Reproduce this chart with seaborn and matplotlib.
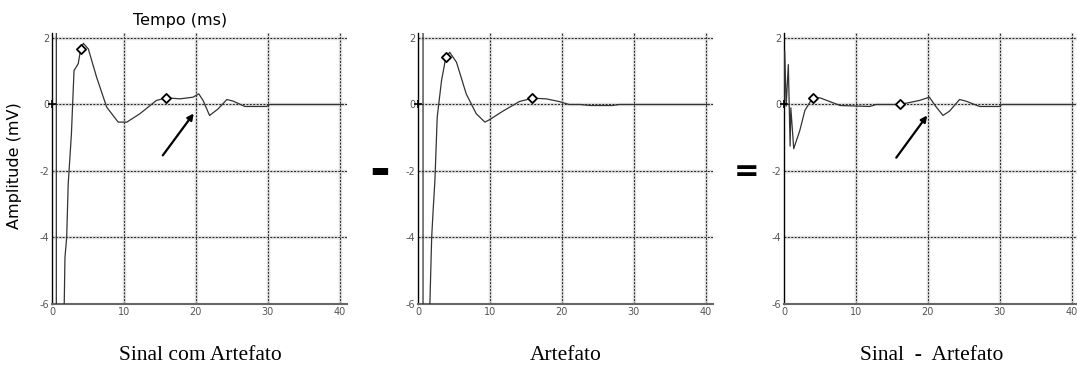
import matplotlib
matplotlib.use("Agg")
import matplotlib.pyplot as plt
import seaborn as sns
import numpy as np

# ---------------- data ----------------
panel_titles = ["Sinal com Artefato", "Artefato", "Sinal  -  Artefato"]
operators = ["-", "="]

t1 = [0.6, 0.6, 1.6, 1.7, 1.8, 2.04, 2.25, 2.7, 3.06, 3.65, 4.0, 4.35, 5.05, 6.2,
      7.6, 9.2, 10.4, 12.2, 14.5, 15.9, 17.8, 19.6, 20.4, 21.0, 21.9, 23.1, 24.3,
      25.2, 26.8, 29.8, 30.3, 40.5]
y1 = [3.0, -9.0, -9.0, -6.0, -4.6, -4.0, -2.4, -0.88, 1.02, 1.23, 1.68, 1.84, 1.67,
      0.82, -0.08, -0.53, -0.53, -0.28, 0.12, 0.2, 0.17, 0.22, 0.32, 0.12, -0.33,
      -0.13, 0.15, 0.1, -0.06, -0.06, 0.0, 0.0]

t2 = [0.7, 0.7, 1.5, 1.65, 1.9, 2.1, 2.35, 2.67, 3.27, 3.87, 4.4, 5.35, 6.7, 8.1,
      9.3, 10.0, 11.8, 14.1, 15.9, 17.8, 19.6, 21.0, 22.5, 24.0, 27.0, 28.0, 40.5]
y2 = [3.0, -9.0, -9.0, -6.0, -4.0, -3.2, -2.29, -0.38, 0.72, 1.42, 1.57, 1.27, 0.32,
      -0.28, -0.53, -0.45, -0.2, 0.09, 0.19, 0.17, 0.09, 0.0, 0.0, -0.03, -0.03,
      0.0, 0.0]

t3 = [0.0, 0.1, 0.3, 0.6, 0.85, 0.95, 1.35, 2.2, 2.9, 3.97, 5.0, 7.8, 11.9, 12.8,
      16.1, 18.8, 20.2, 21.1, 22.1, 23.0, 24.4, 25.3, 27.2, 29.9, 30.3, 40.5]
y3 = [0.0, 1.6, -0.05, 1.2, -1.25, -0.1, -1.33, -0.78, -0.18, 0.2, 0.2, -0.03,
      -0.06, 0.0, 0.0, 0.12, 0.22, -0.06, -0.33, -0.2, 0.15, 0.1, -0.06, -0.06,
      0.0, 0.0]

marker_t = [[4.0, 15.9], [3.87, 15.9], [3.97, 16.1]]
marker_y = [[1.68, 0.2], [1.42, 0.19], [0.2, 0.0]]

arrow_from = [(15.4, -1.53), None, (15.6, -1.6)]
arrow_to = [(19.7, -0.27), None, (19.9, -0.33)]

x_ticks = [0, 10, 20, 30, 40]
y_ticks = [2, 0, -2, -4, -6]

# ---------------- figure ----------------
sns.set_style("white")
plt.rcParams['font.family'] = ['DejaVu Sans']
plt.rcParams['axes.unicode_minus'] = False
plt.rcParams['text.color'] = 'black'

W, H = 1077, 367
fig = plt.figure(figsize=(W / 100, H / 100), dpi=100)

lefts_px = [52, 418, 784]
ax_w_px = 295
bottom_px = 304
ax_h_px = 271

series = [(t1, y1), (t2, y2), (t3, y3)]

for i, (t, y) in enumerate(series):
    ax = fig.add_axes([lefts_px[i] / W, (H - bottom_px) / H, ax_w_px / W, ax_h_px / H])
    ax.set_xlim(0, 41)
    ax.set_ylim(-6, 2.15)

    # grid: light halo + dark dotted line
    for xv in x_ticks[1:]:
        ax.axvline(xv, color='#dddddd', lw=2.5, zorder=0)
        ax.axvline(xv, color='#222222', lw=0.7, ls=(0, (2, 1.5)), zorder=1)
    for yv in y_ticks[:-1]:
        ax.axhline(yv, color='#dddddd', lw=2.5, zorder=0)
        ax.axhline(yv, color='#222222', lw=0.7, ls=(0, (2, 1.5)), zorder=1)

    sns.lineplot(x=t, y=y, ax=ax, sort=False, estimator=None, color='#333333',
                 lw=0.9, zorder=3)
    sns.scatterplot(x=marker_t[i], y=marker_y[i], ax=ax, marker='D', s=22,
                    facecolor='white', edgecolor='black', linewidth=1.3, zorder=5)
    ax.plot([0], [0], marker='+', color='black', ms=6, mew=1.2, zorder=5,
            clip_on=False)

    if arrow_from[i] is not None:
        ax.annotate("", xy=arrow_to[i], xytext=arrow_from[i],
                    arrowprops=dict(arrowstyle='-|>', color='black', lw=1.6,
                                    mutation_scale=9, shrinkA=0, shrinkB=0),
                    zorder=6)

    ax.set_xticks(x_ticks)
    ax.set_yticks(y_ticks)
    ax.tick_params(axis='both', length=0, labelsize=7, labelcolor='#555555', pad=2)
    ax.set_xlabel("")
    ax.set_ylabel("")
    for s in ['top', 'right']:
        ax.spines[s].set_visible(False)
    ax.spines['left'].set_color('black')
    ax.spines['left'].set_linewidth(1.0)
    ax.spines['bottom'].set_color('#666666')
    ax.spines['bottom'].set_linewidth(1.5)

    fig.text((lefts_px[i] + 148) / W, 1 - 356 / H, panel_titles[i],
             family='Liberation Serif', fontsize=15.5, ha='center', va='center',
             color='black')

fig.text(180 / W, 1 - 20.5 / H, "Tempo (ms)", fontsize=11.5, ha='center',
         va='center', color='black')
fig.text(15 / W, 1 - 166 / H, "Amplitude (mV)", fontsize=11.5, ha='center',
         va='center', rotation=90, color='black')

fig.text(380 / W, 1 - 172 / H, operators[0], fontsize=36, fontweight='bold',
         ha='center', va='center', color='black')
fig.text(747 / W, 1 - 171 / H, operators[1], fontsize=22, fontweight='bold',
         ha='center', va='center', color='black')

fig.savefig("out.png", dpi=100)
